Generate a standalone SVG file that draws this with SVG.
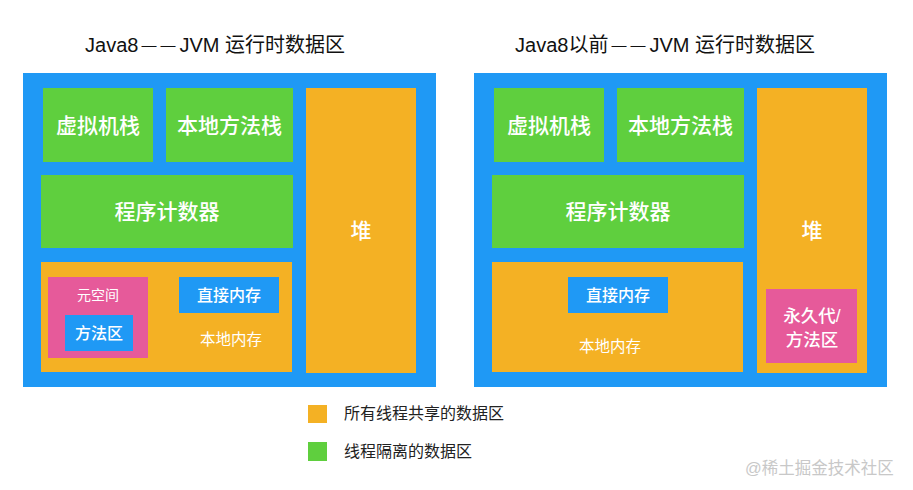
<svg xmlns="http://www.w3.org/2000/svg" width="913" height="490" viewBox="0 0 913 490">
<style>
.t{font-family:"Liberation Sans","Noto Sans CJK SC",sans-serif;text-anchor:middle;dominant-baseline:central;fill:#fff}
.title{font-family:"Liberation Sans","Noto Sans CJK SC",sans-serif;font-size:20px;fill:#111;text-anchor:middle}
.dash{font-size:15px;letter-spacing:4px}
.b{font-size:21px;font-weight:500}
.m{font-size:16px;font-weight:500}
.s{font-size:15.5px}
.blue{fill:#1f99f5}
.green{fill:#5fcf3e}
.orange{fill:#f4b124}
.pink{fill:#e65a9a}
.lg{font-family:"Liberation Sans","Noto Sans CJK SC",sans-serif;font-size:16px;fill:#222}
</style>
<text class="title" x="215" y="52">Java8<tspan class="dash" dx="3" dy="-2">——</tspan><tspan dy="2">JVM 运行时数据区</tspan></text>
<text class="title" x="665" y="52">Java8以前<tspan class="dash" dx="3" dy="-2">——</tspan><tspan dy="2">JVM 运行时数据区</tspan></text>
<g id="left">
<rect class="blue" x="23" y="73" width="413" height="314"/>
<g id="l-vmstack"><rect class="green" x="43" y="88" width="110" height="74"/><text class="t b" x="98" y="125">虚拟机栈</text></g>
<g id="l-native"><rect class="green" x="166" y="88" width="127" height="74"/><text class="t b" x="229.5" y="125">本地方法栈</text></g>
<g id="l-pc"><rect class="green" x="41" y="175" width="252" height="73"/><text class="t b" x="167" y="211">程序计数器</text></g>
<g id="l-heap"><rect class="orange" x="306" y="88" width="110" height="285"/><text class="t b" x="361" y="230">堆</text></g>
<g id="l-localmem"><rect class="orange" x="41" y="262" width="251" height="110"/><text class="t s" x="231" y="339">本地内存</text></g>
<g id="l-meta"><rect class="pink" x="48" y="277" width="100" height="81"/><text class="t" style="font-size:14px" x="98" y="295">元空间</text></g>
<g id="l-method"><rect class="blue" x="65" y="315" width="68" height="36"/><text class="t m" x="99" y="333">方法区</text></g>
<g id="l-direct"><rect class="blue" x="179" y="277" width="100" height="36"/><text class="t m" x="229" y="295">直接内存</text></g>
</g>
<g id="right">
<rect class="blue" x="474" y="73" width="413" height="314"/>
<g id="r-vmstack"><rect class="green" x="494" y="88" width="110" height="74"/><text class="t b" x="549" y="125">虚拟机栈</text></g>
<g id="r-native"><rect class="green" x="617" y="88" width="127" height="74"/><text class="t b" x="680.5" y="125">本地方法栈</text></g>
<g id="r-pc"><rect class="green" x="492" y="175" width="252" height="73"/><text class="t b" x="618" y="211">程序计数器</text></g>
<g id="r-heap"><rect class="orange" x="757" y="88" width="110" height="285"/><text class="t b" x="812" y="230">堆</text></g>
<g id="r-localmem"><rect class="orange" x="492" y="262" width="251" height="110"/><text class="t s" x="610" y="346">本地内存</text></g>
<g id="r-direct"><rect class="blue" x="568" y="277" width="100" height="36"/><text class="t m" x="618" y="295">直接内存</text></g>
<g id="r-perm"><rect class="pink" x="766" y="289" width="91" height="74"/><text class="t" style="font-size:17.5px;font-weight:500" x="812" y="316">永久代/</text><text class="t" style="font-size:17.5px;font-weight:500" x="812" y="340">方法区</text></g>
</g>
<g id="connectors"></g>
<g id="legend">
<rect class="orange" x="308" y="405" width="19" height="18"/>
<text class="lg" x="344" y="419">所有线程共享的数据区</text>
<rect class="green" x="308" y="442" width="19" height="19"/>
<text class="lg" x="344" y="457">线程隔离的数据区</text>
</g>
<text x="745" y="474" style="font-family:'Liberation Sans','Noto Sans CJK SC',sans-serif;font-size:16.5px;fill:#c8c8c8">@稀土掘金技术社区</text>
</svg>
